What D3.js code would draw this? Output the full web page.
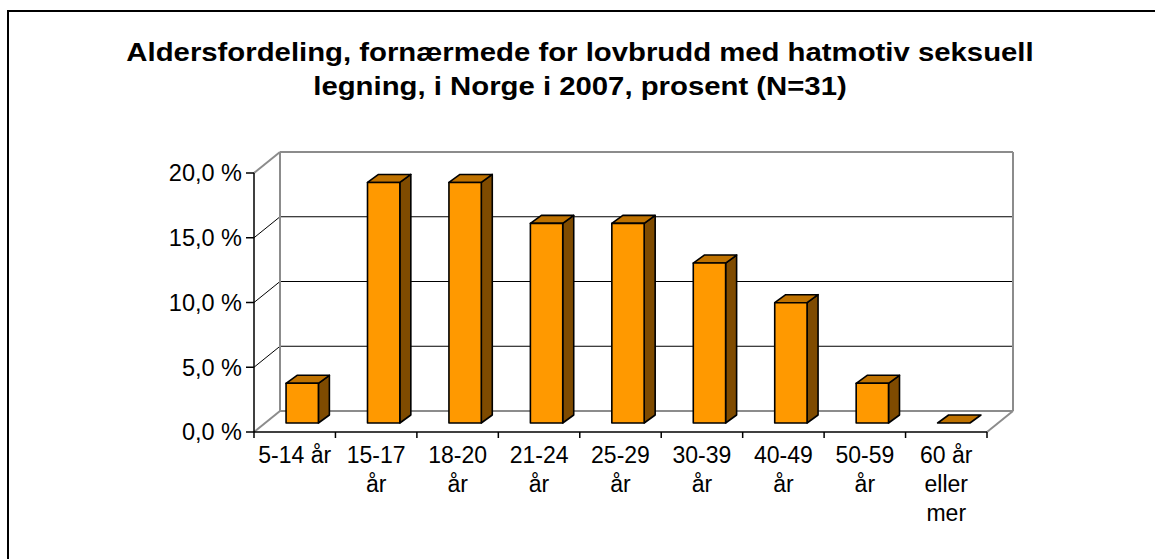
<!DOCTYPE html>
<html><head><meta charset="utf-8">
<script src="https://cdn.jsdelivr.net/npm/d3@7"></script>
<style>html,body{margin:0;padding:0;background:#fff;}svg{display:block;font-family:"Liberation Sans",Arial,sans-serif;}</style>
</head><body>
<svg id="chart" width="1155" height="559"></svg>
<script>
const titleLines = ["Aldersfordeling, fornærmede for lovbrudd med hatmotiv seksuell", "legning, i Norge i 2007, prosent (N=31)"];
const categories = ["5-14 år", "15-17 år", "18-20 år", "21-24 år", "25-29 år", "30-39 år", "40-49 år", "50-59 år", "60 år eller mer"];
const values = [3.2, 19.4, 19.4, 16.1, 16.1, 12.9, 9.7, 3.2, 0.0];
const yTicks = [0, 5, 10, 15, 20];

const svg = d3.select("#chart");
svg.append("rect").attr("x",0).attr("y",0).attr("width",1155).attr("height",559).attr("fill","#fff");
svg.append("rect").attr("x",8).attr("y",11).attr("width",1300).attr("height",700)
  .attr("fill","none").attr("stroke","#000").attr("stroke-width",2);

// title (slightly stretched horizontally like the original rendering)
const tcx = 580;
svg.append("g").attr("transform",`translate(${tcx},0) scale(1.15,1)`)
  .selectAll("text").data(titleLines).join("text")
  .attr("x",0).attr("y",(d,i)=>61+i*34).attr("text-anchor","middle")
  .attr("font-weight","bold").attr("font-size",25.5).attr("fill","#000").text(d=>d);

const x0 = 254, x1 = 987, yBase = 432;
const D = {dx:26, dy:-21};
const y = d3.scaleLinear().domain([0,20]).range([yBase,173]);
const x = d3.scaleBand().domain(categories).range([x0,x1]).paddingInner(0.603).paddingOuter(0.3015);
const xCat = d3.scaleBand().domain(categories).range([x0,x1]);
const yBar = d3.scaleLinear().domain([0,20]).range([423,423-248]);
const barShift = 7.5, bd = {dx:11, dy:-8};

const grey = "#8c8c8c";
const g = svg.append("g");
g.append("rect").attr("x",x0+D.dx).attr("y",y(20)+D.dy).attr("width",x1-x0).attr("height",y(0)-y(20)).attr("fill","#fff");
g.selectAll(".grid").data(yTicks.filter(t=>t>0&&t<20)).join("line")
  .attr("x1",x0+D.dx).attr("x2",x1+D.dx).attr("y1",d=>y(d)+D.dy).attr("y2",d=>y(d)+D.dy)
  .attr("stroke","#000").attr("stroke-width",1);
g.selectAll(".diag").data(yTicks).join("line")
  .attr("x1",x0).attr("y1",d=>y(d)).attr("x2",x0+D.dx).attr("y2",d=>y(d)+D.dy)
  .attr("stroke",d=>(d===0||d===20)?grey:"#000").attr("stroke-width",d=>(d===0||d===20)?2:1);
const frame = [
  [[x0+D.dx,y(0)+D.dy],[x0+D.dx,y(20)+D.dy]],
  [[x0+D.dx,y(20)+D.dy],[x1+D.dx,y(20)+D.dy]],
  [[x1+D.dx,y(20)+D.dy],[x1+D.dx,y(0)+D.dy]],
  [[x0+D.dx,y(0)+D.dy],[x1+D.dx,y(0)+D.dy]],
  [[x1+D.dx,y(0)+D.dy],[x1,y(0)]]
];
g.selectAll(".frame").data(frame).join("path").attr("d",d=>d3.line()(d))
  .attr("stroke",grey).attr("stroke-width",2).attr("fill","none");

// bars
const bars = svg.append("g");
categories.forEach((c,i)=>{
  const v = values[i];
  const fx = x(c)+barShift, w = x.bandwidth();
  const top = yBar(v), bot = yBar(0);
  const bg = bars.append("g").attr("stroke","#000").attr("stroke-width",1.6).attr("stroke-linejoin","round");
  if (v>0) {
    bg.append("path").attr("fill","#7f4b00")
      .attr("d",d3.line()([[fx+w,bot],[fx+w,top],[fx+w+bd.dx,top+bd.dy],[fx+w+bd.dx,bot+bd.dy]])+"Z");
  }
  bg.append("path").attr("fill","#bf7200")
    .attr("d",d3.line()([[fx,top],[fx+w,top],[fx+w+bd.dx,top+bd.dy],[fx+bd.dx,top+bd.dy]])+"Z");
  if (v>0) {
    bg.append("rect").attr("x",fx).attr("y",top).attr("width",w).attr("height",bot-top).attr("fill","#ff9900");
  }
});

// axes
const yAxisG = svg.append("g").attr("transform",`translate(${x0},0)`);
yAxisG.append("line").attr("x1",0).attr("x2",0).attr("y1",y(20)).attr("y2",y(0)).attr("stroke","#000").attr("stroke-width",1.5);
const loc = d3.formatLocale({decimal:",",thousands:" ",grouping:[3],currency:["",""]});
const fmt = loc.format(".1f");
yAxisG.selectAll(".yt").data(yTicks).join("line")
  .attr("x1",-8).attr("x2",0).attr("y1",d=>y(d)).attr("y2",d=>y(d)).attr("stroke","#000").attr("stroke-width",1.5);
yAxisG.selectAll(".yl").data(yTicks).join("text")
  .attr("x",-12).attr("y",d=>y(d)).attr("dy","0.36em").attr("text-anchor","end")
  .attr("font-size",23.5).attr("fill","#000").text(d=>fmt(d)+" %");

const xAxisG = svg.append("g");
xAxisG.append("line").attr("x1",x0).attr("x2",x1).attr("y1",yBase).attr("y2",yBase).attr("stroke","#000").attr("stroke-width",1.5);
const bounds = categories.map(c=>xCat(c)).concat([x1]);
xAxisG.selectAll(".xt").data(bounds).join("line")
  .attr("x1",d=>d).attr("x2",d=>d).attr("y1",yBase).attr("y2",yBase+6).attr("stroke","#000").attr("stroke-width",1.5);

const maxW = xCat.step()-2;
const measure = svg.append("text").attr("font-size",23).attr("visibility","hidden");
function wrap(s){
  const words = s.split(" "); const lines=[]; let cur="";
  words.forEach(wd=>{
    const t = cur? cur+" "+wd : wd;
    measure.text(t);
    if (cur && measure.node().getComputedTextLength()>maxW){ lines.push(cur); cur=wd; } else cur=t;
  });
  lines.push(cur); return lines;
}
categories.forEach(c=>{
  const lines = wrap(c);
  const t = xAxisG.append("text").attr("text-anchor","middle").attr("font-size",23).attr("fill","#000");
  lines.forEach((ln,j)=>{
    t.append("tspan").attr("x",xCat(c)+xCat.bandwidth()/2).attr("y",463+j*29).text(ln);
  });
});
measure.remove();
</script>
</body></html>
